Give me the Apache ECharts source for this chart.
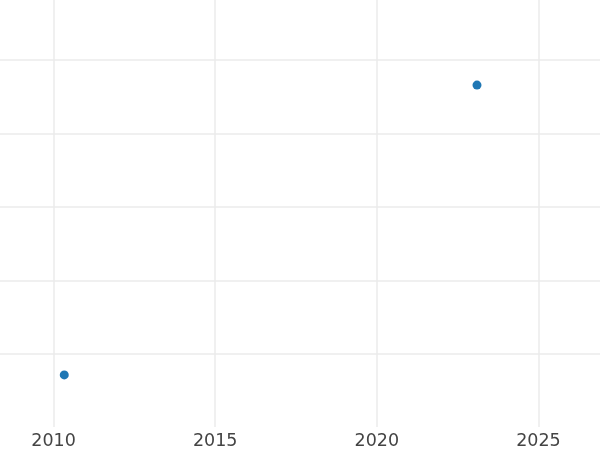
<!DOCTYPE html>
<html>
<head>
<meta charset="utf-8">
<script src="https://cdn.jsdelivr.net/npm/echarts@6/dist/echarts.min.js"></script>
<style>
  html, body { margin: 0; padding: 0; background: #fff; }
  #chart { width: 600px; height: 450px; }
</style>
</head>
<body>
<div id="chart"></div>
<script>
// data
const years = [2010.33, 2023.1]
const values = [0.71, 4.66]

const chart = echarts.init(document.getElementById('chart'))

const option = {
    animation: false,
    grid: {
        // axis runs 2005..2030, only ~2008.3..2026.9 is on screen
        left: -108,
        right: -100,
        top: 0,
        bottom: 23,
        containLabel: false,
        outerBoundsMode: 'none'
    },
    xAxis: {
        type: 'value',
        min: 2005,
        max: 2030,
        interval: 5,
        axisLine: { show: false },
        axisTick: { show: false },
        axisLabel: {
            color: '#444',
            fontFamily: 'DejaVu Sans',
            fontSize: 17.5,
            margin: 5,
            formatter: (v) => String(v)
        },
        splitLine: {
            lineStyle: { color: '#ebebeb', width: 1.5 }
        }
    },
    yAxis: {
        type: 'value',
        min: 0,
        max: 5.82,
        interval: 1,
        axisLine: { show: false },
        axisTick: { show: false },
        axisLabel: { show: false },
        splitLine: {
            showMinLine: false,
            showMaxLine: false,
            lineStyle: { color: '#ebebeb', width: 1.5 }
        }
    },
    series: [
        {
            type: 'scatter',
            data: years.map((y, i) => [y, values[i]]),
            symbolSize: 9,
            itemStyle: { color: '#1f77b4', opacity: 1 }
        }
    ]
}
chart.setOption(option)
</script>
</body>
</html>
